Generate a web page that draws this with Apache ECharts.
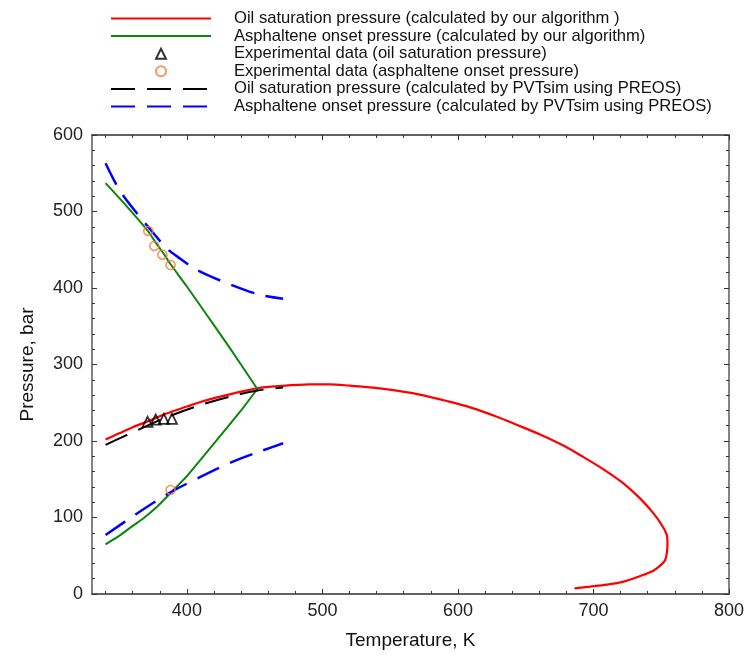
<!DOCTYPE html>
<html>
<head>
<meta charset="utf-8">
<script src="https://cdn.jsdelivr.net/npm/echarts@6/dist/echarts.min.js"></script>
<style>
html,body{margin:0;padding:0;background:#fff;}
#c{width:747px;height:666px;}
</style>
</head>
<body>
<div id="c"></div>
<script>
// ---- data (temperature K, pressure bar) ----
const oilOursT = [340, 350, 360, 370, 385, 400, 410, 420, 434, 452, 470, 490, 505.6, 520.4, 537.6, 554.9, 574.5, 591.8, 609, 628.7, 643.4, 660.6, 677.8, 692.6, 707.4, 722.1, 734.4, 744.3, 750.4, 754.1, 754.6, 752.9, 746.7, 741.8, 732, 722.1, 709.9, 697.5, 686];
const oilOursP = [202, 210, 218, 225, 236, 245, 251, 256, 262, 269, 272, 274, 274.1, 272.3, 269.7, 265.8, 259.7, 252.3, 244, 231.8, 221.2, 208.5, 194, 179, 163, 144.7, 125, 105.4, 90.2, 77.1, 66.2, 44.4, 33.6, 28.3, 21.8, 16.1, 12.2, 9.6, 7.4];

const aspUpperT = [340, 355, 371.5, 376, 382, 388, 400, 415, 430, 452];
const aspUpperP = [537, 508, 474, 462, 447, 431, 402, 364, 326, 268];
const aspLowerT = [340, 350, 360, 368, 378, 388, 400, 422, 440, 452];
const aspLowerP = [65, 76, 89, 99, 114, 132, 154, 201, 240, 268];

const expOilT = [371, 377, 383, 389];
const expOilP = [225, 228, 229, 229];

const expAspT = [371.5, 376, 382, 388, 388];
const expAspP = [474.5, 455, 443.5, 430, 136];

const pvtOilT = [340, 356, 385, 410, 434, 452, 471];
const pvtOilP = [195, 208, 231, 247, 259, 266, 270];

const pvtAspUpperT = [340, 348, 355, 370, 385, 393, 407, 430, 454, 471];
const pvtAspUpperP = [563, 535, 516, 483, 452, 441, 424, 406, 391, 386];
const pvtAspLowerT = [340, 363, 388, 410, 434, 455, 471];
const pvtAspLowerP = [77, 105, 133, 153, 173, 187, 197];

const xMajorTicks = [400, 500, 600, 700, 800];
const xMinorTicks = [340, 360, 380, 420, 440, 460, 480, 520, 540, 560, 580, 620, 640, 660, 680, 720, 740, 760, 780];
const legendNames = [
  'Oil saturation pressure (calculated by our algorithm )',
  'Asphaltene onset pressure (calculated by our algorithm)',
  'Experimental data (oil saturation pressure)',
  'Experimental data (asphaltene onset pressure)',
  'Oil saturation pressure (calculated by PVTsim using PREOS)',
  'Asphaltene onset pressure (calculated by PVTsim using PREOS)'
];

const zip = (a, b) => a.map((v, i) => [v, b[i]]);

const axisColor = '#5a5a5a';
const FONT = 'Arial, "Liberation Sans", sans-serif';
const triPath = 'path://M0,10L5,0L10,10Z';

function xAxisDef(position, values, len, showLabel) {
  return {
    type: 'value', min: 330, max: 800, position: position,
    axisLine: {show: true, onZero: false, lineStyle: {color: axisColor, width: 1.5}},
    axisTick: {show: true, inside: true, length: len, customValues: values, lineStyle: {color: '#333', width: 1}},
    axisLabel: {show: showLabel, customValues: values, margin: 8, color: '#222', fontSize: 18, fontFamily: FONT},
    splitLine: {show: false},
    name: showLabel ? 'Temperature, K' : '',
    nameLocation: 'middle', nameGap: 37,
    nameTextStyle: {fontSize: 19, color: '#111', fontFamily: FONT}
  };
}
function yAxisDef(position, showLabel) {
  return {
    type: 'value', min: 0, max: 600, interval: 100, position: position,
    axisLine: {show: true, onZero: false, lineStyle: {color: axisColor, width: 1.5}},
    axisTick: {show: true, inside: true, length: 5, lineStyle: {color: '#333', width: 1}},
    minorTick: {show: true, splitNumber: 5, length: 3, lineStyle: {color: '#333', width: 1}},
    axisLabel: {show: showLabel, margin: 9, color: '#222', fontSize: 18, fontFamily: FONT},
    splitLine: {show: false},
    minorSplitLine: {show: false},
    name: showLabel ? 'Pressure, bar' : '',
    nameLocation: 'middle', nameGap: 55,
    nameTextStyle: {fontSize: 19, color: '#111', fontFamily: FONT}
  };
}

const hideSym = {opacity: 0};
const chart = echarts.init(document.getElementById('c'), null, {renderer: 'canvas'});
const dash = [24, 12];
chart.setOption({
  animation: false,
  backgroundColor: '#fff',
  grid: {left: 92, right: 17, top: 135, bottom: 72, containLabel: false},
  legend: {
    orient: 'vertical', left: 105, top: 5,
    itemWidth: 100, itemHeight: 10, itemGap: 0.6,
    symbolKeepAspect: true,
    data: [
      {name: legendNames[0], itemStyle: hideSym},
      {name: legendNames[1], itemStyle: hideSym},
      {name: legendNames[2], icon: triPath},
      {name: legendNames[3], icon: 'circle'},
      {name: legendNames[4], itemStyle: hideSym},
      {name: legendNames[5], itemStyle: hideSym}
    ],
    textStyle: {fontSize: 16.6, lineHeight: 16, color: '#111', fontFamily: FONT, padding: [0, 0, 0, 18]},
    selectedMode: false
  },
  xAxis: [
    xAxisDef('bottom', xMajorTicks, 5, true),
    xAxisDef('bottom', xMinorTicks, 3, false),
    xAxisDef('top', xMajorTicks, 5, false),
    xAxisDef('top', xMinorTicks, 3, false)
  ],
  yAxis: [yAxisDef('left', true), yAxisDef('right', false)],
  series: [
    {name: legendNames[0], type: 'line', data: zip(oilOursT, oilOursP), symbol: 'none', smooth: 0.3,
     lineStyle: {color: '#ff0000', width: 2.2}, itemStyle: {color: '#ff0000'}, z: 3},
    {name: legendNames[1], type: 'line', data: zip(aspUpperT, aspUpperP), symbol: 'none', smooth: 0.2,
     lineStyle: {color: '#0a870a', width: 2}, itemStyle: {color: '#0a870a'}, z: 3},
    {name: legendNames[1], type: 'line', data: zip(aspLowerT, aspLowerP), symbol: 'none', smooth: 0.2,
     lineStyle: {color: '#0a870a', width: 2}, itemStyle: {color: '#0a870a'}, z: 3},
    {name: legendNames[2], type: 'scatter', data: zip(expOilT, expOilP), symbol: triPath, symbolSize: 10,
     itemStyle: {color: 'rgba(255,255,255,0)', borderColor: '#000', borderWidth: 1.8}, z: 6},
    {name: legendNames[3], type: 'scatter', data: zip(expAspT, expAspP), symbol: 'circle', symbolSize: 9,
     itemStyle: {color: 'rgba(255,255,255,0)', borderColor: '#f47b3a', borderWidth: 1.6}, z: 6},
    {name: legendNames[4], type: 'line', data: zip(pvtOilT, pvtOilP), symbol: 'none', smooth: 0.3,
     lineStyle: {color: '#000', width: 2, type: dash}, itemStyle: {color: '#000'}, z: 4},
    {name: legendNames[5], type: 'line', data: zip(pvtAspUpperT, pvtAspUpperP), symbol: 'none', smooth: 0.3,
     lineStyle: {color: '#0000ff', width: 2.5, type: dash}, itemStyle: {color: '#0000ff'}, z: 4},
    {name: legendNames[5], type: 'line', data: zip(pvtAspLowerT, pvtAspLowerP), symbol: 'none', smooth: 0.3,
     lineStyle: {color: '#0000ff', width: 2.5, type: dash}, itemStyle: {color: '#0000ff'}, z: 4}
  ]
});
</script>
</body>
</html>
